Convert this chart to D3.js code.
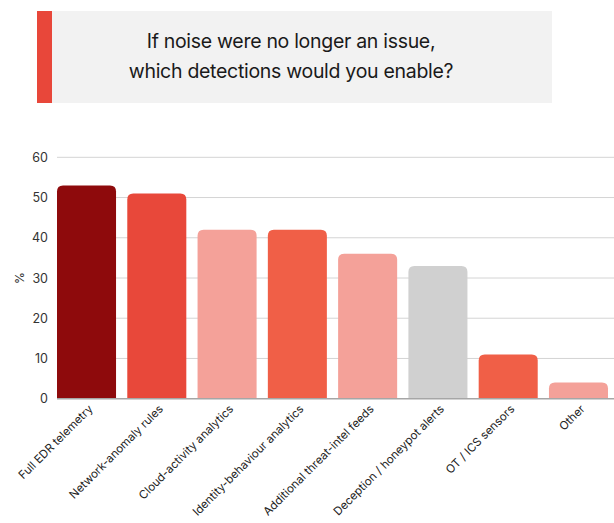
<!DOCTYPE html>
<html>
<head>
<meta charset="utf-8">
<script src="https://cdn.jsdelivr.net/npm/d3@7/dist/d3.min.js"></script>
<style>
  html, body { margin: 0; padding: 0; background: #fff; }
  svg { display: block; }
</style>
</head>
<body>
<svg id="chart" width="614" height="523"></svg>
<script>
// Survey answers: share of respondents (%) per detection type
const categories = [
  "Full EDR telemetry",
  "Network-anomaly rules",
  "Cloud-activity analytics",
  "Identity-behaviour analytics",
  "Additional threat-intel feeds",
  "Deception / honeypot alerts",
  "OT / ICS sensors",
  "Other"
];
const values = [53, 51, 42, 42, 36, 33, 11, 4];
const barColors = ["#8e0a0c", "#e8483a", "#f4a199", "#f05f47", "#f4a199", "#d0d0d0", "#f05f47", "#f4a199"];
const yTicks = [0, 10, 20, 30, 40, 50, 60];
const titleLines = ["If noise were no longer an issue,", "which detections would you enable?"];

const font = "Inter, 'Noto Sans', sans-serif";
const svg = d3.select("#chart");

// Title banner
svg.append("rect").attr("x", 37).attr("y", 11).attr("width", 515).attr("height", 92).attr("fill", "#f2f2f2");
svg.append("rect").attr("x", 37).attr("y", 11).attr("width", 15).attr("height", 92).attr("fill", "#e8473a");
svg.append("text")
  .attr("x", 291).attr("y", 48)
  .attr("text-anchor", "middle")
  .attr("font-family", font).attr("font-size", 19.5).attr("fill", "#1a1a1a")
  .attr("letter-spacing", -0.3)
  .selectAll("tspan").data(titleLines).join("tspan")
  .attr("x", 291).attr("dy", (d, i) => i === 0 ? 0 : 30)
  .text(d => d);

// Scales
const x = d3.scaleBand().domain(categories).range([57, 608]).paddingInner(0.16).paddingOuter(0);
const y = d3.scaleLinear().domain([0, 60]).range([398.7, 157.3]);

// Gridlines
svg.append("g")
  .selectAll("line").data(yTicks.filter(t => t > 0)).join("line")
  .attr("x1", 57).attr("x2", 614)
  .attr("y1", d => y(d)).attr("y2", d => y(d))
  .attr("stroke", "#d4d4d4").attr("stroke-width", 1);

// Y axis tick labels
const yAxis = d3.axisLeft(y).tickValues(yTicks).tickSize(0).tickPadding(9);
const yg = svg.append("g").attr("transform", "translate(57,0)").call(yAxis);
yg.select(".domain").remove();
yg.selectAll("text").attr("font-family", font).attr("font-size", 12.5).attr("fill", "#333");

// Y axis title
svg.append("text")
  .attr("transform", `translate(24,${y(30)}) rotate(-90)`)
  .attr("text-anchor", "middle")
  .attr("font-family", font).attr("font-size", 12).attr("fill", "#333")
  .text("%");

// Bars with rounded top corners
const r = 6;
function barPath(x0, w, yTop, yBase) {
  const rr = Math.min(r, (yBase - yTop), w / 2);
  return `M${x0},${yBase}V${yTop + rr}Q${x0},${yTop} ${x0 + rr},${yTop}H${x0 + w - rr}Q${x0 + w},${yTop} ${x0 + w},${yTop + rr}V${yBase}Z`;
}
svg.append("g")
  .selectAll("path").data(categories).join("path")
  .attr("d", (c, i) => barPath(x(c), x.bandwidth(), y(values[i]), y(0)))
  .attr("fill", (c, i) => barColors[i]);

// Baseline
svg.append("line")
  .attr("x1", 57).attr("x2", 614)
  .attr("y1", y(0)).attr("y2", y(0))
  .attr("stroke", "#a6a6a6").attr("stroke-width", 1.5);

// X axis labels, rotated
const xAxis = d3.axisBottom(x).tickSize(0).tickPadding(0);
const xg = svg.append("g").attr("transform", `translate(0,${y(0)})`).call(xAxis);
xg.select(".domain").remove();
xg.selectAll("text")
  .attr("font-family", font).attr("font-size", 11.5).attr("fill", "#222")
  .attr("text-anchor", "end")
  .attr("dy", null).attr("y", 0)
  .attr("transform", "translate(7,11) rotate(-45)");
</script>
</body>
</html>
